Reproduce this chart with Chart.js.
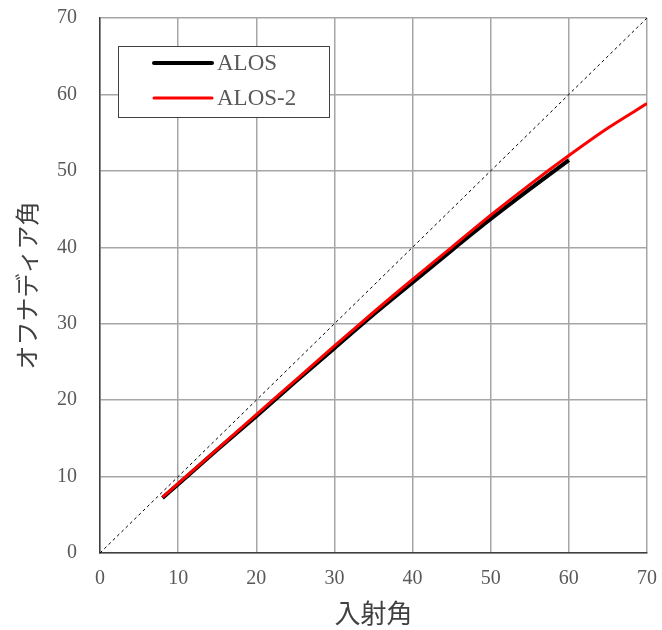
<!DOCTYPE html>
<html>
<head>
<meta charset="utf-8">
<script src="https://cdn.jsdelivr.net/npm/chart.js@4/dist/chart.umd.min.js"></script>
<style>
  html, body { margin: 0; padding: 0; background: #fff; }
  #wrap { width: 662px; height: 630px; position: relative; }
</style>
</head>
<body>
<div id="wrap"><canvas id="offNadirChart"></canvas></div>
<script>
// values
const alosIncidence = [8, 10, 15, 20, 25, 30, 35, 40, 45, 50, 55, 60];
const alosOffNadir = [7.2, 9.0, 13.5, 17.9, 22.4, 26.8, 31.2, 35.4, 39.6, 43.7, 47.6, 51.4];

const alos2Incidence = [8, 10, 15, 20, 25, 30, 35, 40, 45, 50, 55, 60, 65, 70];
const alos2OffNadir = [7.3, 9.1, 13.6, 18.1, 22.6, 27.1, 31.5, 35.8, 40.0, 44.2, 48.2, 52.0, 55.6, 58.8];

const diagonalX = [0, 70];
const diagonalY = [0, 70];

const axisTicks = [0, 10, 20, 30, 40, 50, 60, 70];

const toPoints = (xs, ys) => xs.map((x, i) => ({ x: x, y: ys[i] }));

const serif = "'Liberation Serif', 'DejaVu Serif', serif";
const cjk = "'Noto Sans CJK JP', sans-serif";

// legend drawn as a box inside the plot, upper left
const insideLegend = {
  id: 'insideLegend',
  afterDatasetsDraw(chart) {
    const c = chart.ctx;
    const a = chart.chartArea;
    const x0 = a.left + 18, y0 = a.top + 28, w = 211, h = 71;
    c.save();
    c.fillStyle = '#fff';
    c.fillRect(x0, y0, w, h);
    c.strokeStyle = '#404040';
    c.lineWidth = 1;
    c.strokeRect(x0 + 0.5, y0 + 0.5, w, h);
    const items = chart.data.datasets.filter(d => d.label);
    items.forEach((d, i) => {
      const y = y0 + 17 + i * 35;
      c.strokeStyle = d.borderColor;
      c.lineWidth = d.borderWidth;
      c.lineCap = 'round';
      c.beginPath();
      c.moveTo(x0 + 36, y);
      c.lineTo(x0 + 94, y);
      c.stroke();
      c.fillStyle = '#595959';
      c.font = '23px ' + serif;
      c.textBaseline = 'middle';
      c.fillText(d.label, x0 + 99, y + 1);
    });
    c.restore();
  }
};

const ctx = document.getElementById('offNadirChart').getContext('2d');
const offNadirChart = new Chart(ctx, {
  type: 'scatter',
  data: {
    datasets: [
      {
        label: 'ALOS',
        data: toPoints(alosIncidence, alosOffNadir),
        showLine: true,
        borderColor: '#000000',
        borderWidth: 4,
        pointRadius: 0,
        tension: 0.3,
        order: 2
      },
      {
        label: 'ALOS-2',
        data: toPoints(alos2Incidence, alos2OffNadir),
        showLine: true,
        borderColor: '#ff0000',
        borderWidth: 3,
        pointRadius: 0,
        tension: 0.3,
        order: 1
      },
      {
        label: '',
        data: toPoints(diagonalX, diagonalY),
        showLine: true,
        borderColor: '#000000',
        borderWidth: 1,
        borderDash: [3, 3],
        pointRadius: 0,
        order: 3
      }
    ]
  },
  options: {
    responsive: true,
    maintainAspectRatio: false,
    animation: false,
    layout: { padding: { top: 18, right: 15, left: 0, bottom: 0 } },
    scales: {
      x: {
        type: 'linear',
        min: 0,
        max: 70,
        afterBuildTicks: scale => { scale.ticks = axisTicks.map(v => ({ value: v })); },
        afterFit: scale => {
          scale.height = 77;
          scale.paddingLeft = 0;
          scale.paddingRight = 0;
        },
        grid: { color: '#a6a6a6', lineWidth: 1.5, drawTicks: false },
        border: { color: '#404040', width: 1.5 },
        ticks: { color: '#595959', font: { family: serif, size: 20 }, padding: 14, maxRotation: 0 },
        title: { display: true, text: '入射角', color: '#404040', font: { family: cjk, size: 26 }, padding: { top: 0, bottom: 1 } }
      },
      y: {
        type: 'linear',
        min: 0,
        max: 70,
        afterBuildTicks: scale => { scale.ticks = axisTicks.map(v => ({ value: v })); },
        afterFit: scale => {
          scale.width = 100;
          scale.paddingTop = 0;
          scale.paddingBottom = 0;
        },
        grid: { color: '#a6a6a6', lineWidth: 1.5, drawTicks: false },
        border: { color: '#404040', width: 1.5 },
        ticks: { color: '#595959', font: { family: serif, size: 20 }, padding: 23 },
        title: { display: true, text: 'オフナディア角', color: '#404040', font: { family: cjk, size: 24 }, padding: { top: 12, bottom: 0 } }
      }
    },
    plugins: {
      legend: { display: false },
      tooltip: { enabled: false }
    }
  },
  plugins: [insideLegend]
});
</script>
</body>
</html>
